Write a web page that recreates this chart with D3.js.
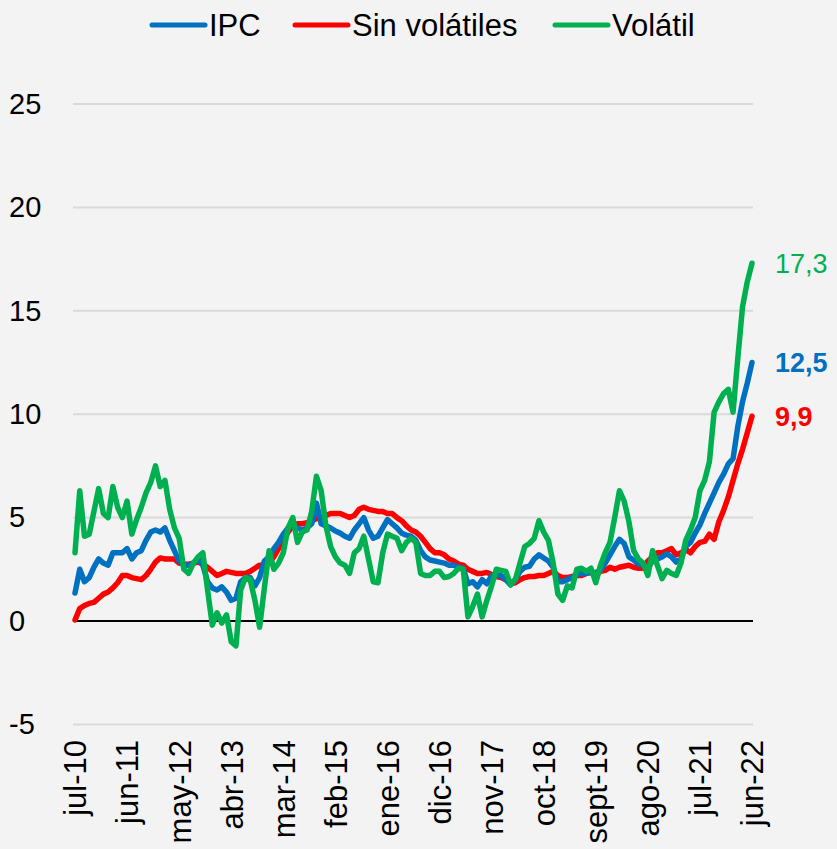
<!DOCTYPE html>
<html>
<head>
<meta charset="utf-8">
<script src="https://cdn.jsdelivr.net/npm/d3@7"></script>
<style>
  body { margin: 0; background: #f3f3f3; }
  svg { display: block; font-family: "Liberation Sans", Arial, sans-serif; }
</style>
</head>
<body>
<div id="chart"></div>
<script>
// monthly series, jul-10 .. jun-22 (144 months)
var ipc = [1.35,2.5,1.9,2.1,2.6,3.0,2.8,2.7,3.3,3.3,3.3,3.5,3.0,3.3,3.4,3.9,4.3,4.4,4.3,4.5,3.9,3.4,2.9,2.7,
  2.7,2.8,3.0,2.7,1.9,1.6,1.5,1.65,1.4,1.0,1.1,1.9,2.1,2.1,1.7,2.1,2.9,3.1,3.5,3.8,4.2,4.5,4.6,4.5,4.4,4.5,
  4.7,5.7,4.7,4.6,4.5,4.35,4.25,4.1,4.0,4.4,4.7,5.0,4.4,4.0,4.1,4.5,4.9,4.7,4.5,4.25,4.15,4.1,3.9,3.4,3.1,2.95,2.9,
  2.85,2.8,2.7,2.7,2.6,2.55,1.8,1.9,1.65,2.0,1.8,2.2,2.2,2.2,2.0,1.75,2.0,2.4,2.6,2.65,3.0,3.2,3.05,
  2.9,2.6,1.9,1.9,2.0,2.1,2.25,2.3,2.3,2.35,2.35,2.45,2.8,3.2,3.6,3.95,3.75,3.1,2.95,2.75,2.7,2.6,2.9,3.0,3.1,3.25,
  3.1,2.85,3.0,3.6,3.8,4.25,4.65,5.2,5.7,6.2,6.7,7.1,7.6,7.85,9.4,10.6,11.5,12.5];
var sinVol = [0.05,0.6,0.75,0.85,0.9,1.1,1.3,1.4,1.6,1.85,2.2,2.2,2.1,2.05,2.0,2.2,2.5,2.85,3.05,3.0,3.0,3.0,2.8,2.75,
  2.75,2.8,2.85,2.75,2.6,2.4,2.2,2.3,2.4,2.35,2.3,2.3,2.3,2.4,2.55,2.7,2.7,2.8,3.1,3.5,3.9,4.3,4.6,4.7,4.7,4.75,
  4.85,4.95,5.0,5.1,5.2,5.2,5.2,5.1,5.0,5.1,5.4,5.5,5.4,5.35,5.3,5.3,5.2,5.2,5.0,4.85,4.6,4.4,4.3,4.1,3.8,3.5,3.3,
  3.3,3.2,3.0,2.9,2.75,2.7,2.5,2.4,2.3,2.3,2.35,2.25,2.15,2.1,2.0,1.8,1.85,2.0,2.1,2.15,2.15,2.2,2.2,
  2.3,2.4,2.2,2.1,2.1,2.15,2.2,2.2,2.3,2.35,2.2,2.4,2.45,2.6,2.5,2.6,2.65,2.7,2.6,2.55,2.55,2.9,3.1,3.3,3.3,3.4,
  3.5,3.2,3.3,3.45,3.3,3.6,3.8,3.85,4.2,3.95,4.8,5.35,6.0,6.8,7.6,8.3,9.1,9.9];
var volatil = [3.3,6.3,4.1,4.2,5.3,6.4,5.2,5.0,6.5,5.5,5.0,5.8,4.2,4.9,5.5,6.2,6.7,7.5,6.5,6.8,5.4,4.5,4.0,2.5,
  2.3,2.8,3.1,3.3,1.5,-0.2,0.4,-0.1,0.3,-1.0,-1.2,1.5,2.1,2.0,1.0,-0.3,1.6,3.4,2.5,2.8,3.3,4.5,5.0,3.8,4.3,4.4,
  5.3,7.0,6.3,4.6,3.6,3.1,2.8,2.7,2.3,3.3,3.5,4.1,3.0,1.9,1.85,3.3,4.2,4.1,4.0,3.4,3.8,4.0,3.8,2.3,2.2,2.2,2.4,
  2.4,2.1,2.15,2.3,2.55,2.5,0.2,0.7,1.3,0.2,1.0,1.7,2.5,2.45,2.4,1.75,2.0,2.8,3.6,3.75,4.0,4.85,4.3,
  3.9,2.8,1.3,1.0,1.7,1.6,2.5,2.55,2.4,2.55,1.85,2.7,3.3,3.8,5.0,6.3,5.8,4.8,3.4,3.0,2.8,2.2,3.4,2.7,2.05,2.45,
  2.3,2.2,2.8,3.9,4.4,5.0,6.3,6.8,7.7,10.1,10.6,11.0,11.2,10.1,12.7,15.2,16.4,17.3];

var tickLabels = ["jul-10","jun-11","may-12","abr-13","mar-14","feb-15","ene-16","dic-16","nov-17","oct-18","sept-19","ago-20","jul-21","jun-22"];
var yTicks = [-5,0,5,10,15,20,25];
var seriesNames = ["IPC","Sin volátiles","Volátil"];
var seriesColors = ["#0070C0","#FF0000","#00B050"];
var endLabels = ["12,5","9,9","17,3"];

var width = 837, height = 849;
var svg = d3.select("#chart").append("svg")
    .attr("width", width)
    .attr("height", height);

svg.append("rect").attr("width", width).attr("height", height).attr("fill", "#f3f3f3");

var x = d3.scaleLinear().domain([0, ipc.length - 1]).range([75, 752]);
var y = d3.scaleLinear().domain([-5, 25]).range([724.4, 104]);

// gridlines
svg.append("g")
  .selectAll("line")
  .data(yTicks.filter(function(d){ return d !== 0; }))
  .enter().append("line")
    .attr("x1", 73).attr("x2", 753)
    .attr("y1", function(d){ return y(d); })
    .attr("y2", function(d){ return y(d); })
    .attr("stroke", "#d9d9d9")
    .attr("stroke-width", 2);

// zero line
svg.append("line")
    .attr("x1", 73).attr("x2", 753)
    .attr("y1", y(0)).attr("y2", y(0))
    .attr("stroke", "#000")
    .attr("stroke-width", 2);

// y axis labels (left aligned, plain hyphen for negatives)
var yAxis = svg.append("g")
    .call(d3.axisLeft(y).tickValues(yTicks).tickSize(0)
      .tickFormat(function(d){ return String(d); }));
yAxis.select(".domain").remove();
yAxis.selectAll("text")
    .style("font-size", "29px")
    .style("font-family", "Liberation Sans, Arial, sans-serif")
    .attr("fill", "#000")
    .attr("text-anchor", "start")
    .attr("x", 9);

// x axis labels
var xAxis = svg.append("g")
    .attr("transform", "translate(0,730)")
    .call(d3.axisBottom(x)
      .tickValues(d3.range(0, ipc.length, 11))
      .tickSize(0)
      .tickFormat(function(d){ return tickLabels[d / 11]; }));
xAxis.select(".domain").remove();
xAxis.selectAll("text")
    .style("font-size", "31px")
    .style("font-family", "Liberation Sans, Arial, sans-serif")
    .attr("fill", "#000")
    .attr("transform", "rotate(-90)")
    .attr("text-anchor", "end")
    .attr("x", -10)
    .attr("y", 0)
    .attr("dy", "0.35em");

// lines
var line = d3.line()
    .x(function(d, i){ return x(i); })
    .y(function(d){ return y(d); });

var data = [ipc, sinVol, volatil];
var drawOrder = [1, 0, 2];
drawOrder.forEach(function(k){
  svg.append("path")
    .datum(data[k])
    .attr("fill", "none")
    .attr("stroke", seriesColors[k])
    .attr("stroke-width", 5.5)
    .attr("stroke-linejoin", "round")
    .attr("stroke-linecap", "round")
    .attr("d", line);
});

// end labels
data.forEach(function(s, k){
  svg.append("text")
    .attr("x", 775)
    .attr("y", y(s[s.length - 1]))
    .attr("dy", "0.35em")
    .attr("fill", seriesColors[k])
    .style("font-size", "27px")
    .style("font-weight", k === 2 ? "normal" : "bold")
    .text(endLabels[k]);
});

// legend
var legendX = [152, 295, 555];
var legend = svg.append("g");
seriesNames.forEach(function(n, k){
  legend.append("line")
    .attr("x1", legendX[k]).attr("x2", legendX[k] + 53)
    .attr("y1", 25).attr("y2", 25)
    .attr("stroke", seriesColors[k])
    .attr("stroke-width", 5)
    .attr("stroke-linecap", "round");
  legend.append("text")
    .attr("x", legendX[k] + 57)
    .attr("y", 36)
    .style("font-size", "31px")
    .attr("fill", "#000")
    .text(n);
});
</script>
</body>
</html>
